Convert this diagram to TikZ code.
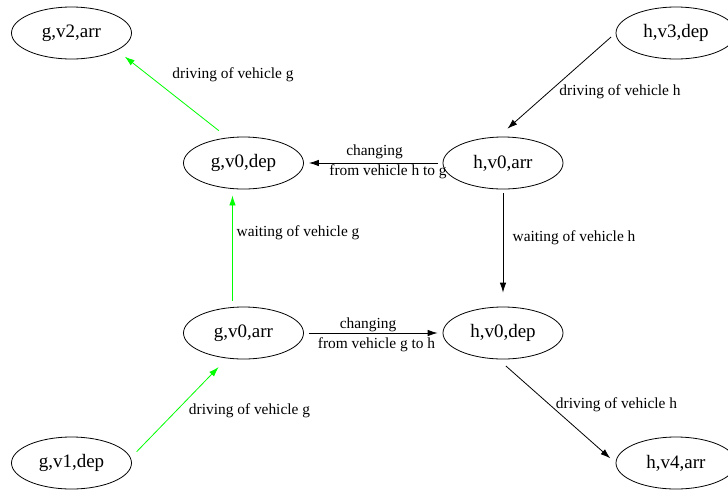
\documentclass[tikz,border=0pt]{standalone}
\usepackage{fontspec}
\setmainfont{Liberation Serif}
\usetikzlibrary{shapes.geometric,arrows.meta}

\tikzset{
  stop/.style={draw,ellipse,line width=0.8pt,minimum width=120pt,minimum height=52pt,inner sep=0pt,font=\fontsize{19}{22}\selectfont},
  lbl/.style={inner sep=0pt,font=\fontsize{15.4}{18}\selectfont},
}

\begin{document}
\begin{tikzpicture}[x=1pt,y=-1pt,>={Latex[length=10pt,width=6.5pt]}]
        \useasboundingbox (0,0) rectangle (728,496);
        \node[stop] (g2arr) at (71.5,33) {g,v2,arr};
        \node[stop] (h3dep) at (676,33) {h,v3,dep};
        \node[stop] (g0dep) at (243.5,163) {g,v0,dep};
        \node[stop] (h0arr) at (503,163) {h,v0,arr};
        \node[stop] (g0arr) at (243.5,333) {g,v0,arr};
        \node[stop] (h0dep) at (503,333) {h,v0,dep};
        \node[stop] (g1dep) at (71.5,463) {g,v1,dep};
        \node[stop] (h4arr) at (676,463) {h,v4,arr};

        \node[lbl] (drvg1) at (233,75) {driving of vehicle g};
        \node[lbl] (drvh1) at (620,92) {driving of vehicle h};
        \node[lbl] (chg1) at (374.5,152) {changing};
        \node[lbl] (chg1b) at (388,172) {from vehicle h to g};
        \node[lbl] (wtg) at (298,233) {waiting of vehicle g};
        \node[lbl] (wth) at (574,237.5) {waiting of vehicle h};
        \node[lbl] (chg2) at (368,325) {changing};
        \node[lbl] (chg2b) at (376.5,345) {from vehicle g to h};
        \node[lbl] (drvg2) at (249.5,410.5) {driving of vehicle g};
        \node[lbl] (drvh2) at (616.5,405) {driving of vehicle h};

        \path[->,line width=0.8pt]
        (g0dep.122) edge[green,shorten <=11pt,shorten >=10pt] (g2arr.-21)
        (h3dep.west) edge[shorten <=6pt,shorten >=12pt] (h0arr.100)
        (h0arr.west) edge[shorten <=5pt,shorten >=5pt] (g0dep.east)
        (g0arr.113) edge[green,shorten <=6.5pt,shorten >=6.5pt] (g0dep.-113)
        (h0arr.south) edge[shorten <=4pt,shorten >=14pt] (h0dep.north)
        (g0arr.east) edge[shorten <=5pt,shorten >=5pt] (h0dep.west)
        (g1dep.5) edge[green,shorten <=8.5pt,shorten >=12pt] (g0arr.-123)
        (h0dep.-100) edge[shorten <=10pt,shorten >=7pt] (h4arr.west);
\end{tikzpicture}
\end{document}
